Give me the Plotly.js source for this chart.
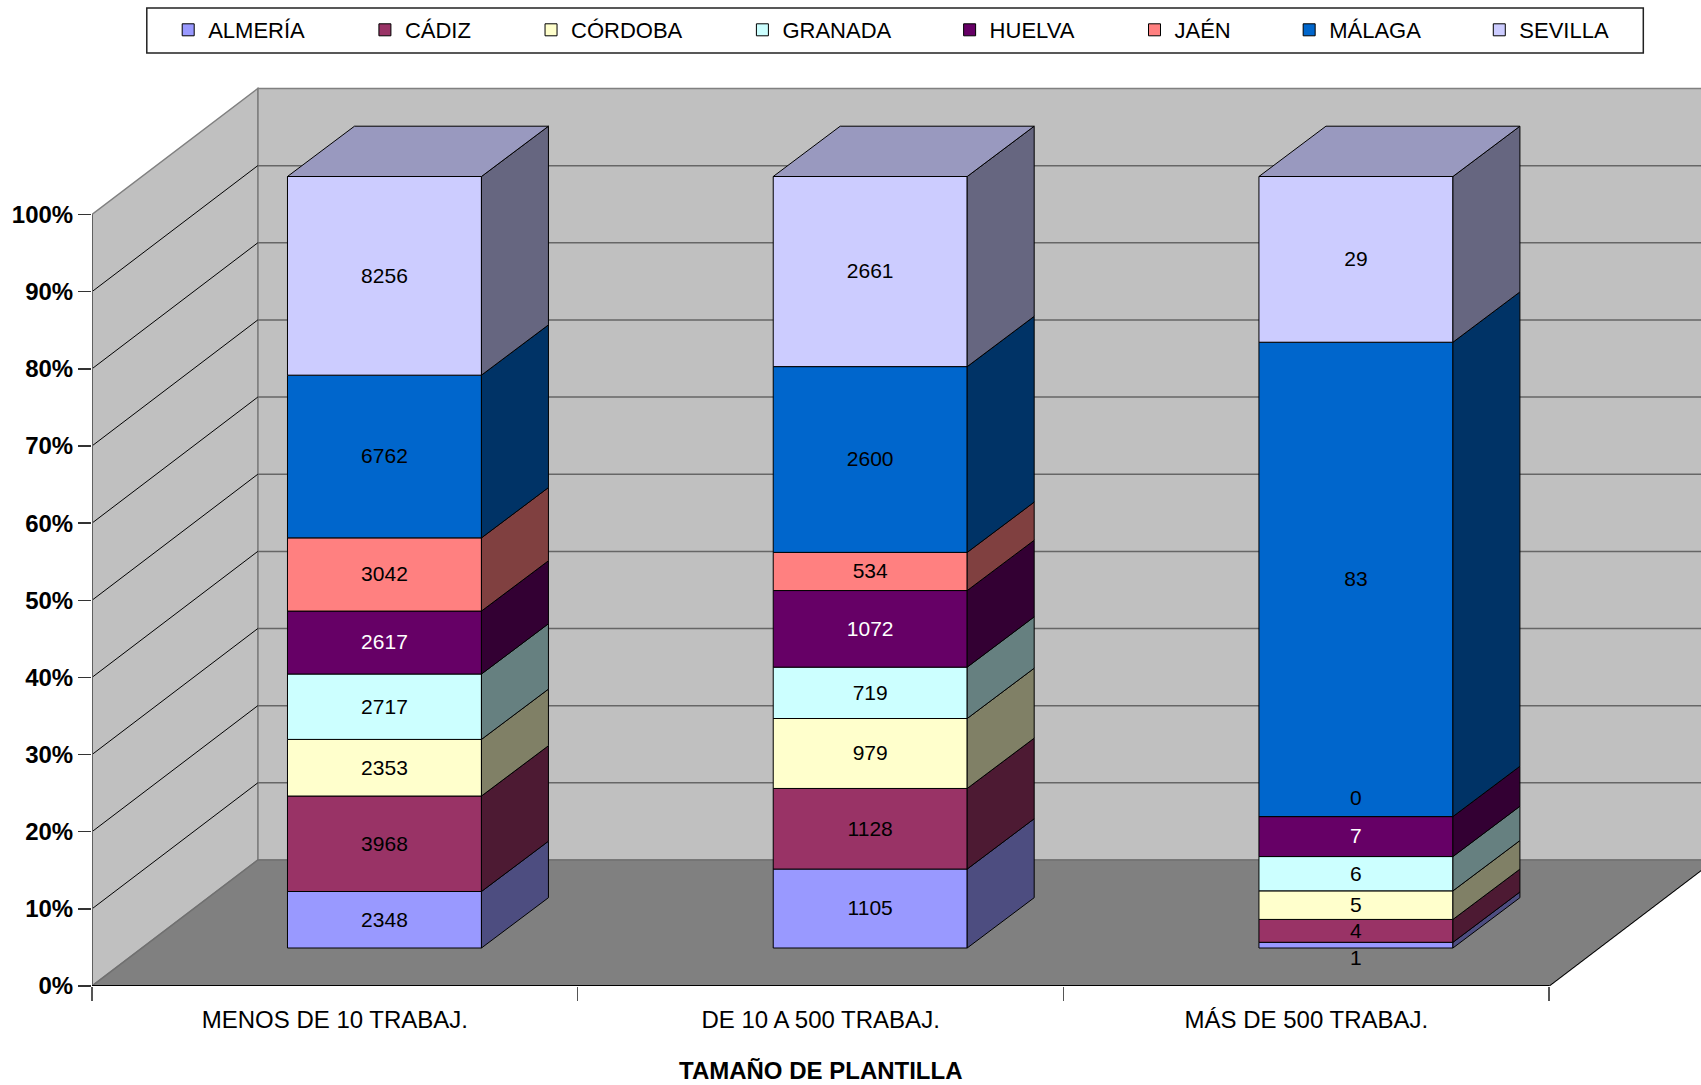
<!DOCTYPE html>
<html>
<head>
<meta charset="utf-8">
<script src="https://cdn.plot.ly/plotly-3.0.1.min.js"></script>
<style>html,body{margin:0;padding:0;background:#fff}#chart{width:1701px;height:1085px}</style>
</head>
<body>
<div id="chart"></div>
<script>
const categories = ["MENOS DE 10 TRABAJ.", "DE 10 A 500 TRABAJ.", "MÁS DE 500 TRABAJ."];
const provinces = ["ALMERÍA", "CÁDIZ", "CÓRDOBA", "GRANADA", "HUELVA", "JAÉN", "MÁLAGA", "SEVILLA"];
const almeria = [2348, 1105, 1];
const cadiz   = [3968, 1128, 4];
const cordoba = [2353, 979, 5];
const granada = [2717, 719, 6];
const huelva  = [2617, 1072, 7];
const jaen    = [3042, 534, 0];
const malaga  = [6762, 2600, 83];
const sevilla = [8256, 2661, 29];
const seriesValues = [almeria, cadiz, cordoba, granada, huelva, jaen, malaga, sevilla];
const frontColors = ["#9999FF", "#993366", "#FFFFCC", "#CCFFFF", "#660066", "#FF8080", "#0066CC", "#CCCCFF"];
const sideColors  = ["#4D4D80", "#4D1A33", "#808066", "#668080", "#330033", "#804040", "#003366", "#666680"];
const topColor = "#9999BF";
const labelColors = ["#000", "#000", "#000", "#000", "#fff", "#000", "#000", "#000"];
const NB = "\u00A0", TH = "\u2009";
const legendPadding = [NB.repeat(10), NB.repeat(10), NB.repeat(10), NB.repeat(9) + TH, NB.repeat(10), NB.repeat(9) + TH, NB.repeat(9) + TH, ""];
const yTicks = [0, 10, 20, 30, 40, 50, 60, 70, 80, 90, 100];
const xAxisTitle = "TAMAÑO DE PLANTILLA";

const W = 1701, H = 1085, ML = 91.8, MB = 99;
const pxX = 485.8, pxY = 7.715;
const plotW = W - ML, plotH = H - MB;
const wallDx = 165.8 / pxX, wallDy = 126 / pxY;
const baseDx = 49.6 / pxX, baseDy = 38 / pxY;
const barDx = 67 / pxX, barDy = 50.3 / pxY;
const barW = 194 / pxX;

const totals = categories.map((_, c) => seriesValues.reduce((s, v) => s + v[c], 0));
const traces = [], sideTraces = [];
const running = categories.map(() => 0);
const textX = [], textY = [], textS = [], textC = [];

seriesValues.forEach((vals, s) => {
  const xs = [], bases = [], hs = [];
  const polyX = [], polyY = [];
  vals.forEach((v, c) => {
    const pct = 100 * v / totals[c];
    const b = running[c];
    const cx = c + 0.5 + baseDx;
    xs.push(cx); bases.push(b + baseDy); hs.push(pct);
    if (v > 0) {
      const r = cx + barW / 2, y0 = b + baseDy, y1 = y0 + pct;
      polyX.push(r, r + barDx, r + barDx, r, r, null);
      polyY.push(y0, y0 + barDy, y1 + barDy, y1, y0, null);
    }
    let nudge = 0;
    if (v === 0) nudge = 2.35;
    if (v === 1) nudge = -1.75;
    textX.push(cx); textY.push(b + baseDy + pct / 2 - 0.2 + nudge);
    textS.push(String(v)); textC.push(labelColors[s]);
    running[c] = b + pct;
  });
  traces.push({
    type: "bar", name: provinces[s] + legendPadding[s], x: xs, y: hs, base: bases, width: barW,
    marker: {color: frontColors[s], line: {color: "#000", width: 1}},
    hoverinfo: "skip"
  });
  sideTraces.push({
    type: "scatter", mode: "lines", x: polyX, y: polyY, fill: "toself", fillcolor: sideColors[s],
    line: {color: "#000", width: 1}, showlegend: false, hoverinfo: "skip"
  });
});

// top faces
const topX = [], topY = [];
categories.forEach((_, c) => {
  const l = c + 0.5 + baseDx - barW / 2, r = l + barW, y = running[c] + baseDy;
  topX.push(l, l + barDx, r + barDx, r, l, null);
  topY.push(y, y + barDy, y + barDy, y, y, null);
});
const topTrace = {type: "scatter", mode: "lines", x: topX, y: topY, fill: "toself", fillcolor: topColor,
  line: {color: "#000", width: 1}, showlegend: false, hoverinfo: "skip"};

const labelTrace = {type: "scatter", mode: "text", x: textX, y: textY, text: textS,
  textposition: "middle center", textfont: {family: "Liberation Sans", size: 21, color: textC},
  showlegend: false, hoverinfo: "skip", cliponaxis: false};

const shapes = [];
const poly = (pts, fill, lc, lw) => shapes.push({type: "path", layer: "below", xref: "x", yref: "y",
  path: "M" + pts.map(p => p[0] + " " + p[1]).join("L") + "Z", fillcolor: fill, line: {color: lc, width: lw}});
const seg = (x0, y0, x1, y1, lc, lw) => shapes.push({type: "line", layer: "below", xref: "x", yref: "y",
  x0, y0, x1, y1, line: {color: lc, width: lw}});
const nCat = categories.length;
poly([[wallDx, wallDy], [nCat + wallDx, wallDy], [nCat + wallDx, 100 + wallDy], [wallDx, 100 + wallDy]], "#C0C0C0", "#808080", 1.5);
poly([[0, 0], [wallDx, wallDy], [wallDx, 100 + wallDy], [0, 100]], "#C0C0C0", "#808080", 1.5);
yTicks.slice(1, -1).forEach(p => {
  seg(wallDx, p + wallDy, nCat + wallDx, p + wallDy, "#666", 1.5);
  seg(0, p, wallDx, p + wallDy, "#000", 1);
});
poly([[0, 0], [nCat, 0], [nCat + wallDx, wallDy], [wallDx, wallDy]], "#808080", "#707070", 1.5);
seg(nCat, 0, nCat + wallDx, wallDy, "#000", 1);
seg(0, 0, 0, 100, "#606060", 2);
seg(0, 0, nCat, 0, "#000", 2);
shapes.push({type: "rect", layer: "below", xref: "paper", yref: "paper",
  x0: (146.6 - ML) / plotW, x1: (1643.3 - ML) / plotW, y0: 1 - 53 / plotH, y1: 1 - 8 / plotH,
  fillcolor: "#fff", line: {color: "#222", width: 1.5}});

const layout = {
  width: W, height: H, margin: {l: ML, r: 0, t: 0, b: MB},
  paper_bgcolor: "#fff", plot_bgcolor: "rgba(0,0,0,0)",
  barmode: "overlay", showlegend: true, shapes,
  font: {family: "Liberation Sans", color: "#000"},
  legend: {orientation: "h", x: (188 - 14 - ML) / plotW, xanchor: "left", y: 1 - 30 / plotH, yanchor: "middle", indentation: -6,
    bgcolor: "rgba(0,0,0,0)", font: {family: "Liberation Sans", size: 22, color: "#000"}, traceorder: "normal"},
  annotations: [{text: "<b>" + xAxisTitle + "</b>", xref: "x", yref: "paper", x: nCat / 2, y: -(1070 - plotH) / plotH,
    xanchor: "center", yanchor: "middle", showarrow: false, font: {family: "Liberation Sans", size: 24, color: "#000"}}],
  xaxis: {range: [0, plotW / pxX], showgrid: false, zeroline: false, showline: false, autorange: false,
    tickmode: "array", tickvals: categories.map((_, i) => i + 0.5), ticktext: categories, ticks: "", ticklabelstandoff: 17,
    tickfont: {family: "Liberation Sans", size: 24, color: "#000"}, tickangle: 0,
    minor: {tickmode: "array", tickvals: [0, 1, 2, 3], ticks: "outside", ticklen: 14, tickwidth: 1.5, tickcolor: "#555", showgrid: false}},
  yaxis: {range: [0, plotH / pxY], showgrid: false, zeroline: false, showline: false, autorange: false,
    tickmode: "array", tickvals: yTicks, ticktext: yTicks.map(t => "<b>" + t + "%</b>"), ticks: "outside", ticklen: 13, tickwidth: 1.5, tickcolor: "#333",
    tickfont: {family: "Liberation Sans", size: 24, color: "#000"}}
};

Plotly.newPlot("chart", [...traces, ...sideTraces, topTrace, labelTrace], layout, {displayModeBar: false, staticPlot: true});
</script>
</body>
</html>
